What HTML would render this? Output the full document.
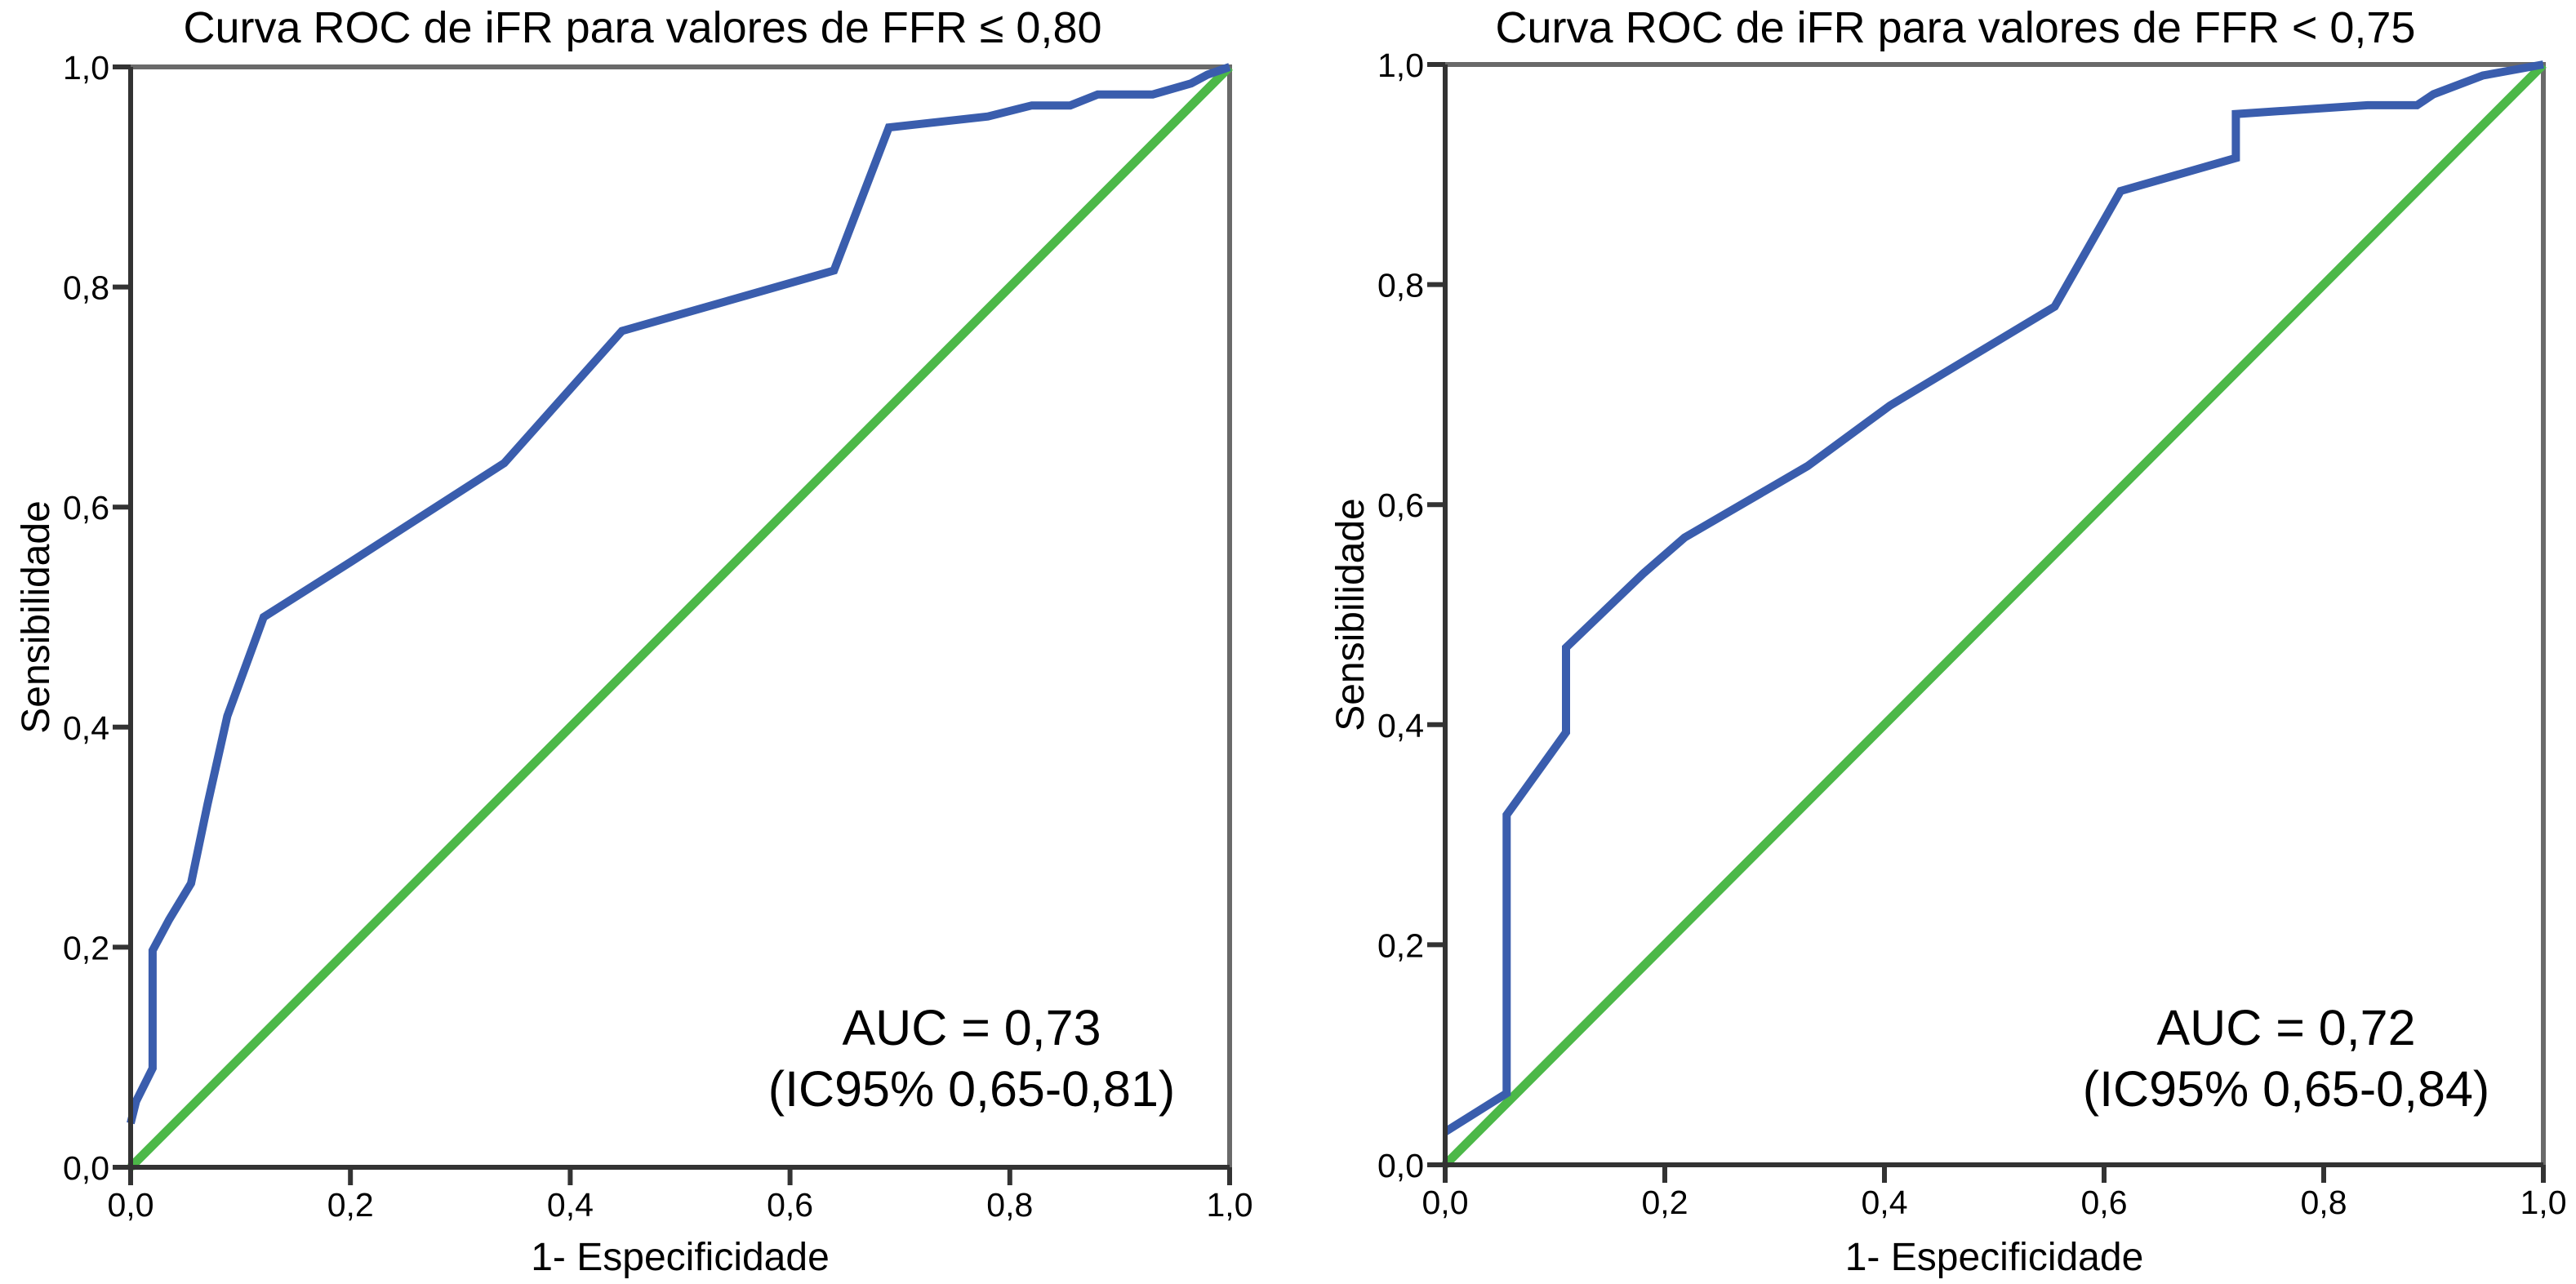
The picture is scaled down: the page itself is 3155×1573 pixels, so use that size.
<!DOCTYPE html>
<html><head><meta charset="utf-8"><style>
html,body{margin:0;padding:0;background:#fff;}
svg{display:block;font-family:"Liberation Sans",Arial,sans-serif;}
</style></head><body>
<svg id="chart" width="3155" height="1573" viewBox="0 0 3155 1573" xmlns="http://www.w3.org/2000/svg">
<text x="787" y="52" font-size="54" text-anchor="middle">Curva ROC de iFR para valores de FFR ≤ 0,80</text>
<text x="2395" y="52" font-size="54" text-anchor="middle">Curva ROC de iFR para valores de FFR &lt; 0,75</text>
</svg>
<script>
const tickValues = [0, 0.2, 0.4, 0.6, 0.8, 1.0];
const tickLabels = ["0,0", "0,2", "0,4", "0,6", "0,8", "1,0"];
const leftFpr = [0, 0.005, 0.02, 0.02, 0.035, 0.055, 0.07, 0.088, 0.121, 0.2, 0.34, 0.447, 0.64, 0.69, 0.78, 0.82, 0.855, 0.88, 0.93, 0.965, 0.98, 1];
const leftTpr = [0.04, 0.06, 0.09, 0.197, 0.225, 0.258, 0.33, 0.41, 0.5, 0.55, 0.64, 0.76, 0.815, 0.945, 0.955, 0.965, 0.965, 0.975, 0.975, 0.985, 0.993, 1];
const rightFpr = [0, 0.056, 0.056, 0.11, 0.11, 0.18, 0.218, 0.33, 0.405, 0.555, 0.615, 0.72, 0.72, 0.84, 0.885, 0.9, 0.945, 1];
const rightTpr = [0.03, 0.065, 0.318, 0.393, 0.47, 0.537, 0.57, 0.635, 0.69, 0.78, 0.885, 0.915, 0.955, 0.963, 0.963, 0.973, 0.99, 1];
const aucLeft = ["AUC = 0,73", "(IC95% 0,65-0,81)"];
const aucRight = ["AUC = 0,72", "(IC95% 0,65-0,84)"];

const NS = "http://www.w3.org/2000/svg";
const svg = document.getElementById("chart");
function mk(tag, attrs, parent) {
  const e = document.createElementNS(NS, tag);
  for (const k in attrs) e.setAttribute(k, attrs[k]);
  (parent || svg).appendChild(e);
  return e;
}
function panel(id, x0, x1, y0, y1, fpr, tpr, auc, aucCx) {
  const sx = v => x0 + v * (x1 - x0);
  const sy = v => y0 - v * (y0 - y1);
  const g = mk("g", {});
  
  
  const fr = mk("path", {d: `M${x0},${y1} L${x1},${y1} L${x1},${y0}`, fill: "none", stroke: "#6a6a6a", "stroke-width": 6}, g);
  
  
  const diag = mk("line", {x1: sx(0), y1: sy(0), x2: sx(1), y2: sy(1), stroke: "#4cb848", "stroke-width": 11}, g);
  
  
  const pts = fpr.map((f, i) => sx(f).toFixed(1) + "," + sy(tpr[i]).toFixed(1)).join(" ");
  const curve = mk("polyline", {points: pts, fill: "none", stroke: "#3a5dad", "stroke-width": 10, "stroke-linejoin": "miter"}, g);
  
  
  const ax = mk("path", {d: `M${x0 - 22},${y0} L${x1},${y0} M${x0},${y1} L${x0},${y0 + 22}`, fill: "none", stroke: "#333", "stroke-width": 6}, g);
  
  
  tickValues.forEach((v, i) => {
    const tx = mk("line", {x1: sx(v), y1: y0, x2: sx(v), y2: y0 + 22, stroke: "#333", "stroke-width": 6}, g);
    
    
    const ty = mk("line", {x1: x0 - 22, y1: sy(v), x2: x0, y2: sy(v), stroke: "#333", "stroke-width": 6}, g);
    
    
    const lx = mk("text", {x: sx(v), y: y0 + 60, "font-size": 41, "text-anchor": "middle"}, g);
    lx.textContent = tickLabels[i];
    
    
    const ly = mk("text", {x: x0 - 26, y: sy(v) + 15, "font-size": 41, "text-anchor": "end"}, g);
    ly.textContent = tickLabels[i];
    
    
  });
  const xt = mk("text", {x: (x0 + x1) / 2, y: 1556, "font-size": 48, "text-anchor": "middle"}, g);
  xt.textContent = "1- Especificidade";
  
  
  const yc = (y0 + y1) / 2;
  const yt = mk("text", {x: x0 - 100, y: yc, "font-size": 48, "text-anchor": "middle", transform: `rotate(-90 ${x0 - 100} ${yc})`}, g);
  yt.textContent = "Sensibilidade";
  
  
  const a1 = mk("text", {x: aucCx, y: 1280, "font-size": 61, "text-anchor": "middle"}, g);
  a1.textContent = auc[0];
  
  
  const a2 = mk("text", {x: aucCx, y: 1355, "font-size": 61, "text-anchor": "middle"}, g);
  a2.textContent = auc[1];
  
  
}
panel("left", 160, 1506, 1430, 82, leftFpr, leftTpr, aucLeft, 1190);
panel("right", 1770, 3115, 1427, 79, rightFpr, rightTpr, aucRight, 2800);
</script>
</body></html>
